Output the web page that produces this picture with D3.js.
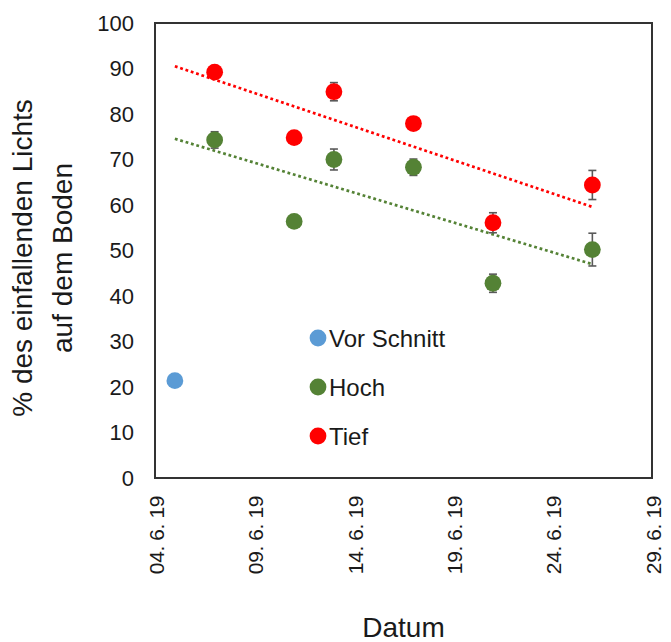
<!DOCTYPE html>
<html lang="de">
<head>
<meta charset="UTF-8">
<script src="https://d3js.org/d3.v7.min.js"></script>
<title>Licht auf dem Boden</title>
<style>
  body { margin: 0; background: #fff; }
  text { font-family: "Liberation Sans", Arial, sans-serif; fill: #1a1a1a; }
</style>
</head>
<body>
<svg id="chart" width="671" height="642"></svg>
<script>
// data
const vorDates = ["2019-06-05"];
const vorValues = [21.4];

const dates = ["2019-06-07", "2019-06-11", "2019-06-13", "2019-06-17", "2019-06-21", "2019-06-26"];
const hochValues = [74.3, 56.4, 70.0, 68.3, 42.8, 50.2];
const hochErrors = [1.8, 1.0, 2.3, 1.8, 2.0, 3.6];
const tiefValues = [89.2, 74.8, 84.9, 77.9, 56.1, 64.4];
const tiefErrors = [1.0, 1.0, 2.0, 1.0, 2.2, 3.2];

const trendStart = "2019-06-05", trendEnd = "2019-06-26";
const xTicks = ["2019-06-04", "2019-06-09", "2019-06-14", "2019-06-19", "2019-06-24", "2019-06-29"];
const yTicks = [0, 10, 20, 30, 40, 50, 60, 70, 80, 90, 100];
const legendNames = ["Vor Schnitt", "Hoch", "Tief"];
const colors = { "Vor Schnitt": "#5b9bd5", "Hoch": "#548235", "Tief": "#ff0000" };

const parse = d3.timeParse("%Y-%m-%d");
const fmt = d3.timeFormat("%d. %-m. %y");

const svg = d3.select("#chart");
const pLeft = 155, pRight = 652, pTop = 23, pBottom = 478;

const x = d3.scaleTime()
  .domain([parse(xTicks[0]), parse(xTicks[xTicks.length - 1])])
  .range([pLeft, pRight]);
const y = d3.scaleLinear().domain([0, 100]).range([pBottom, pTop]);

// frame
svg.append("rect")
  .attr("x", pLeft).attr("y", pTop)
  .attr("width", pRight - pLeft).attr("height", pBottom - pTop)
  .attr("fill", "none").attr("stroke", "#333").attr("stroke-width", 2);

// y axis labels
const yAxis = svg.append("g")
  .attr("transform", `translate(${pLeft},0)`)
  .call(d3.axisLeft(y).tickValues(yTicks).tickSize(0).tickPadding(21));
yAxis.select(".domain").remove();
yAxis.selectAll("text").style("font-size", "22px").attr("fill", "#1a1a1a");

// x axis labels, rotated
const xAxis = svg.append("g")
  .attr("transform", `translate(0,${pBottom})`)
  .call(d3.axisBottom(x).tickValues(xTicks.map(parse)).tickFormat(fmt).tickSize(0));
xAxis.select(".domain").remove();
xAxis.selectAll("text")
  .style("font-size", "21px")
  .style("letter-spacing", "-0.4px")
  .attr("fill", "#1a1a1a")
  .attr("text-anchor", "end")
  .attr("transform", "rotate(-90)")
  .attr("x", -18)
  .attr("y", 1)
  .attr("dy", "0.35em");

// axis titles
svg.append("text")
  .attr("transform", "translate(32,258) rotate(-90)")
  .attr("text-anchor", "middle")
  .style("font-size", "28px")
  .text("% des einfallenden Lichts");
svg.append("text")
  .attr("transform", "translate(72,258) rotate(-90)")
  .attr("text-anchor", "middle")
  .style("font-size", "28px")
  .text("auf dem Boden");
svg.append("text")
  .attr("x", (pLeft + pRight) / 2).attr("y", 637)
  .attr("text-anchor", "middle")
  .style("font-size", "28px")
  .text("Datum");

// linear trend lines (least squares on the series)
function trend(values) {
  const xs = dates.map(d => +parse(d));
  const mx = d3.mean(xs), my = d3.mean(values);
  let sxy = 0, sxx = 0;
  xs.forEach((v, i) => { sxy += (v - mx) * (values[i] - my); sxx += (v - mx) * (v - mx); });
  const b = sxy / sxx;
  return t => my + b * (t - mx);
}
[["Hoch", hochValues], ["Tief", tiefValues]].forEach(([name, vals]) => {
  const f = trend(vals);
  const t0 = +parse(trendStart), t1 = +parse(trendEnd);
  svg.append("line")
    .attr("x1", x(t0)).attr("y1", y(f(t0)))
    .attr("x2", x(t1)).attr("y2", y(f(t1)))
    .attr("stroke", colors[name])
    .attr("stroke-width", 2.7)
    .attr("stroke-dasharray", "2.8,2.8");
});

// error bars
function errorBars(vals, errs) {
  const g = svg.append("g").attr("stroke", "#595959").attr("stroke-width", 1.6);
  dates.forEach((d, i) => {
    const cx = x(parse(d));
    const y0 = y(vals[i] - errs[i]), y1 = y(vals[i] + errs[i]);
    g.append("line").attr("x1", cx).attr("x2", cx).attr("y1", y0).attr("y2", y1);
    g.append("line").attr("x1", cx - 4).attr("x2", cx + 4).attr("y1", y0).attr("y2", y0);
    g.append("line").attr("x1", cx - 4).attr("x2", cx + 4).attr("y1", y1).attr("y2", y1);
  });
}
errorBars(hochValues, hochErrors);
errorBars(tiefValues, tiefErrors);

// points
function points(ds, vals, name) {
  svg.append("g").selectAll("circle")
    .data(vals)
    .join("circle")
    .attr("cx", (d, i) => x(parse(ds[i])))
    .attr("cy", d => y(d))
    .attr("r", 8.4)
    .attr("fill", colors[name]);
}
points(vorDates, vorValues, "Vor Schnitt");
points(dates, hochValues, "Hoch");
points(dates, tiefValues, "Tief");

// legend
const legend = svg.append("g").attr("transform", "translate(318,338)");
legendNames.forEach((name, i) => {
  const row = legend.append("g").attr("transform", `translate(0,${i * 49})`);
  row.append("circle").attr("r", 8.4).attr("fill", colors[name]);
  row.append("text")
    .attr("x", 11).attr("dy", "0.36em")
    .style("font-size", "24px")
    .text(name);
});
</script>
</body>
</html>
